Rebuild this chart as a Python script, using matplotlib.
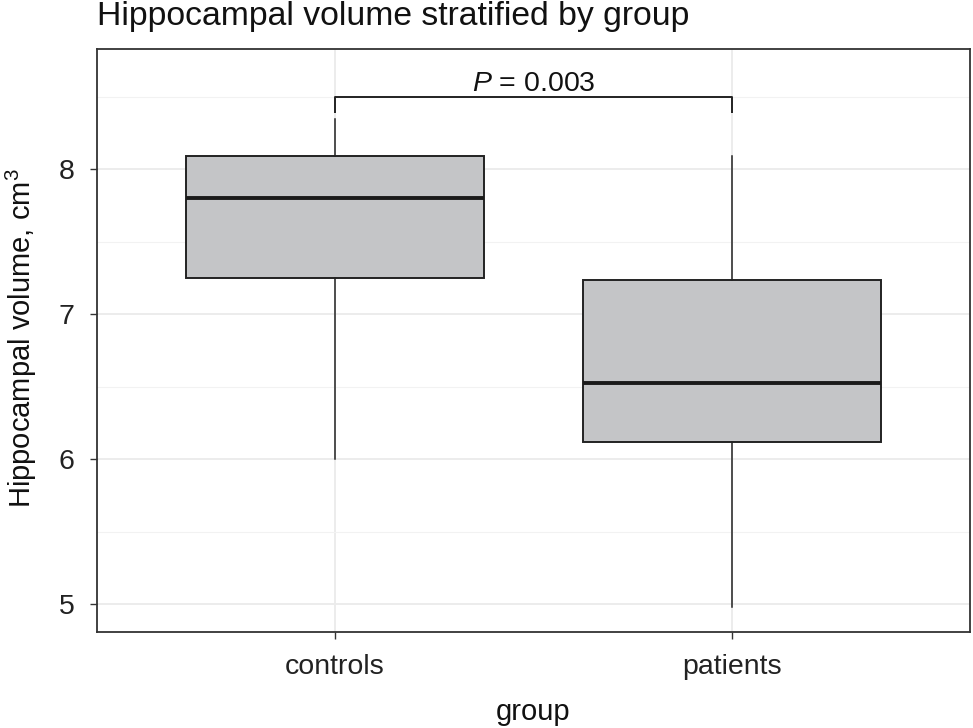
import matplotlib
matplotlib.use("Agg")
import matplotlib.pyplot as plt

plt.rcParams['font.family'] = ['Liberation Sans', 'DejaVu Sans']
plt.rcParams['mathtext.fontset'] = 'custom'
plt.rcParams['mathtext.rm'] = 'Liberation Sans'
plt.rcParams['mathtext.it'] = 'Liberation Sans:italic'

groups = ["controls", "patients"]
whislo = [6.00, 4.98]
q1 = [7.25, 6.12]
med = [7.80, 6.53]
q3 = [8.09, 7.24]
whishi = [8.35, 8.09]
p_label = "$P$ = 0.003"
bracket_y = 8.5
bracket_leg = 8.39

W, H = 973, 728
fig = plt.figure(figsize=(W/100, H/100), dpi=100)
ax = fig.add_axes([97/W, (H-632)/H, (970-97)/W, (632-49)/H])

stats = [dict(label=g, whislo=a, q1=b, med=c, q3=d, whishi=e, fliers=[])
         for g, a, b, c, d, e in zip(groups, whislo, q1, med, q3, whishi)]
ax.bxp(stats, positions=[1, 2], widths=0.75, patch_artist=True, showcaps=False,
       showfliers=False,
       boxprops=dict(facecolor='#c4c5c7', edgecolor='#222222', linewidth=1.4),
       medianprops=dict(color='#1a1a1a', linewidth=2.8),
       whiskerprops=dict(color='#222222', linewidth=1.1), zorder=3)

ax.set_xlim(0.4, 2.6)
ax.set_ylim(4.81, 8.83)
ax.set_yticks([5, 6, 7, 8])
ax.set_yticks([5.5, 6.5, 7.5, 8.5], minor=True)
ax.set_xticks([1, 2])
ax.set_xticklabels(groups)
ax.grid(True, which='major', color='#ebebeb', linewidth=1.3, zorder=0)
ax.grid(True, which='minor', axis='y', color='#f2f2f2', linewidth=0.8, zorder=0)
ax.set_axisbelow(True)
ax.tick_params(axis='both', which='major', length=5, width=1.0, color='#333333',
               labelsize=20.5, labelcolor='#222222', pad=11)
ax.tick_params(axis='y', which='minor', length=0)
for s in ax.spines.values():
    s.set_color('#333333')
    s.set_linewidth(1.3)

# significance bracket
ax.plot([1, 1, 2, 2], [bracket_leg, bracket_y, bracket_y, bracket_leg],
        color='#222222', linewidth=1.4, zorder=4, solid_capstyle='butt')
ax.text(1.5, bracket_y + 0.0, p_label, ha='center', va='bottom', fontsize=20.5,
        color='#111111')

fig.text(39/W, 1 - 338/H, "Hippocampal volume, cm$^3$", rotation=90,
         ha='right', va='center', fontsize=21, color='#111111')
fig.text(533.5/W, 1 - 720/H, "group", ha='center', va='baseline',
         fontsize=21, color='#111111')
fig.text(97/W, 1 - 25/H, "Hippocampal volume stratified by group",
         ha='left', va='baseline', fontsize=24.3, color='#111111')

fig.savefig("out.png", dpi=100)
